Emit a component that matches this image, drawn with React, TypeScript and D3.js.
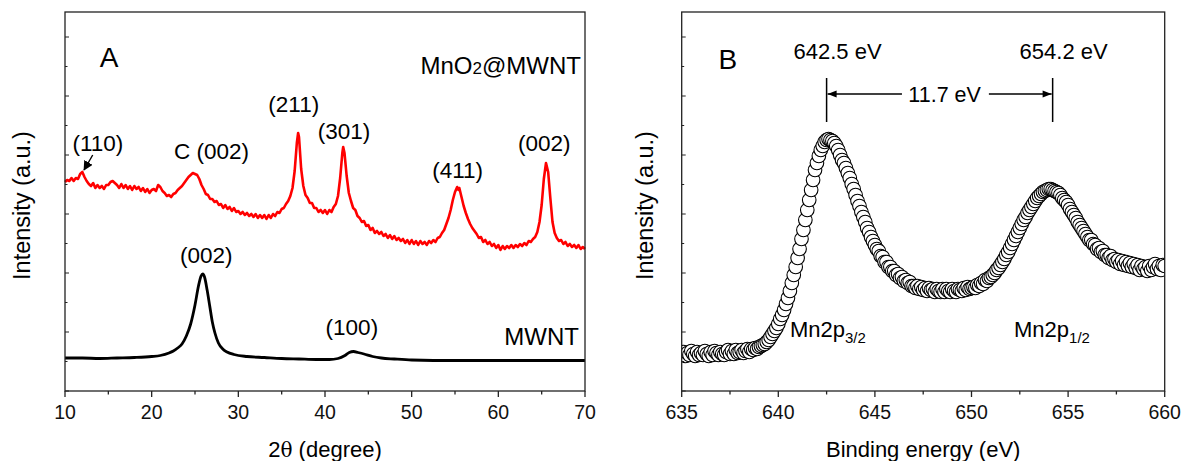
import React from "react";
import * as d3 from "d3";

// ---------- Panel A: XRD ----------
const xrdTicks = [10, 20, 30, 40, 50, 60, 70];
// MnO2@MWNT pattern [2theta, intensity a.u.]
const mno2Pattern: [number, number][] = [
  [10.0, 209], [10.25, 211], [10.5, 210], [10.75, 213], [11.0, 210], [11.25, 213], [11.5, 212], [11.75, 217],
  [12.0, 219], [12.25, 214], [12.5, 210], [12.75, 207], [13.0, 205], [13.25, 208], [13.5, 203], [13.75, 206],
  [14.0, 203], [14.25, 205], [14.5, 202], [14.75, 206], [15.0, 206], [15.25, 209], [15.5, 210], [15.75, 208],
  [16.0, 206], [16.25, 203], [16.5, 207], [16.75, 203], [17.0, 206], [17.25, 202], [17.5, 205], [17.75, 201],
  [18.0, 205], [18.25, 202], [18.5, 204], [18.75, 200], [19.0, 203], [19.25, 199], [19.5, 202], [19.75, 198],
  [20.0, 201], [20.25, 202], [20.5, 200], [20.75, 206], [21.0, 204], [21.25, 200], [21.5, 198], [21.75, 195],
  [22.0, 196], [22.25, 194], [22.5, 197], [22.75, 198], [23.0, 201], [23.25, 203], [23.5, 205], [23.75, 208],
  [24.0, 211], [24.25, 214], [24.5, 216], [24.75, 218], [25.0, 217], [25.25, 216], [25.5, 212], [25.75, 206],
  [26.0, 202], [26.25, 197], [26.5, 196], [26.75, 192], [27.0, 192], [27.25, 189], [27.5, 190], [27.75, 186],
  [28.0, 187], [28.25, 183], [28.5, 186], [28.75, 182], [29.0, 184], [29.25, 180], [29.5, 183], [29.75, 179],
  [30.0, 180], [30.25, 177], [30.5, 179], [30.75, 176], [31.0, 178], [31.25, 175], [31.5, 177], [31.75, 174],
  [32.0, 177], [32.25, 173], [32.5, 176], [32.75, 173], [33.0, 176], [33.25, 172], [33.5, 176], [33.75, 173],
  [34.0, 177], [34.25, 175], [34.5, 179], [34.75, 178], [35.0, 182], [35.25, 183], [35.5, 187], [35.75, 190],
  [36.0, 195], [36.25, 203], [36.5, 220], [36.75, 248], [36.9, 258], [37.0, 254], [37.25, 222], [37.5, 205],
  [37.75, 196], [38.0, 193], [38.25, 188], [38.5, 188], [38.75, 183], [39.0, 183], [39.25, 179], [39.5, 181],
  [39.75, 178], [40.0, 181], [40.25, 177], [40.5, 181], [40.75, 179], [41.0, 184], [41.25, 187], [41.5, 195],
  [41.75, 213], [42.0, 238], [42.1, 244], [42.25, 238], [42.5, 215], [42.75, 198], [43.0, 190], [43.25, 183],
  [43.5, 181], [43.75, 175], [44.0, 173], [44.25, 169], [44.5, 170], [44.75, 165], [45.0, 166], [45.25, 161],
  [45.5, 163], [45.75, 158], [46.0, 160], [46.25, 157], [46.5, 159], [46.75, 155], [47.0, 157], [47.25, 153],
  [47.5, 156], [47.75, 152], [48.0, 155], [48.25, 151], [48.5, 153], [48.75, 150], [49.0, 152], [49.25, 148],
  [49.5, 151], [49.75, 147], [50.0, 151], [50.25, 147], [50.5, 150], [50.75, 146], [51.0, 150], [51.25, 147],
  [51.5, 149], [51.75, 146], [52.0, 150], [52.25, 148], [52.5, 151], [52.75, 149], [53.0, 153], [53.25, 154],
  [53.5, 158], [53.75, 161], [54.0, 167], [54.25, 173], [54.5, 181], [54.75, 191], [55.0, 199], [55.25, 204],
  [55.4, 201], [55.5, 203], [55.75, 194], [56.0, 185], [56.25, 178], [56.5, 172], [56.75, 167], [57.0, 163],
  [57.25, 160], [57.5, 157], [57.75, 153], [58.0, 154], [58.25, 149], [58.5, 151], [58.75, 147], [59.0, 149],
  [59.25, 145], [59.5, 147], [59.75, 143], [60.0, 146], [60.25, 141], [60.5, 145], [60.75, 142], [61.0, 145],
  [61.25, 143], [61.5, 146], [61.75, 143], [62.0, 146], [62.25, 144], [62.5, 147], [62.75, 145], [63.0, 148],
  [63.25, 146], [63.5, 150], [63.75, 149], [64.0, 152], [64.25, 154], [64.5, 159], [64.75, 169], [65.0, 186],
  [65.25, 212], [65.5, 228], [65.75, 219], [66.0, 193], [66.25, 169], [66.5, 158], [66.75, 153], [67.0, 150],
  [67.25, 151], [67.5, 147], [67.75, 149], [68.0, 145], [68.25, 147], [68.5, 144], [68.75, 146], [69.0, 143],
  [69.25, 146], [69.5, 142], [69.75, 144], [70.0, 142],
];
// MWNT pattern [2theta, intensity a.u.]
const mwntPattern: [number, number][] = [
  [10, 33], [12, 33], [14, 32.5], [16, 33], [18, 33.5], [20, 34.5], [21, 35.5], [22, 38], [22.5, 40],
  [23, 43], [23.5, 47], [24, 55], [24.5, 67], [25, 86], [25.4, 105], [25.7, 115], [25.9, 117], [26.1, 114],
  [26.4, 101], [26.7, 85], [27.0, 69], [27.3, 58], [27.7, 48], [28.2, 42], [28.7, 39], [29.5, 36.5],
  [31, 34.5], [33, 33.5], [35, 32.5], [37, 32], [39, 31.5], [40.5, 31.5], [41.5, 32.5], [42.3, 35.5],
  [42.8, 38.5], [43.3, 39.5], [43.8, 38.5], [44.5, 37], [45.5, 34.5], [46.5, 33], [48, 32], [50, 31],
  [55, 30.5], [60, 30.5], [65, 30.5], [70, 30.5],
];
// peak labels: [text, 2theta, intensity]
const mno2Labels: [string, number, number][] = [
  ["(110)", 13.8, 240], ["C (002)", 26.9, 232], ["(211)", 36.4, 279], ["(301)", 42.2, 252],
  ["(411)", 55.3, 213], ["(002)", 65.3, 240],
];
const mwntLabels: [string, number, number][] = [
  ["(002)", 26.3, 128], ["(100)", 43.1, 56],
];

// ---------- Panel B: XPS ----------
const xpsTicks = [635, 640, 645, 650, 655, 660];
const xpsStart = 635;
const xpsStep = 0.1;
const xpsIntensity = [
  37, 39, 35, 38, 36, 40, 37, 35, 39, 36,
  38, 36, 40, 37, 35, 39, 36, 40, 38, 36,
  39, 37, 36, 39, 41, 37, 40, 37, 41, 38,
  39, 41, 38, 40, 42, 39, 42, 41, 43, 42,
  44, 45, 46, 47, 49, 51, 54, 57, 60, 63,
  67, 72, 76, 81, 87, 93, 100, 108, 116, 124,
  133, 142, 152, 161, 171, 181, 191, 201, 211, 221,
  228, 235, 241, 245, 249, 251, 252, 251, 250, 248,
  245, 241, 236, 231, 228, 223, 218, 213, 207, 202,
  196, 190, 185, 179, 174, 169, 163, 159, 154, 150,
  146, 142, 140, 135, 134, 129, 129, 124, 124, 120,
  120, 116, 117, 113, 114, 110, 111, 108, 109, 105,
  105, 103, 105, 102, 104, 101, 103, 100, 103, 101,
  102, 99, 102, 100, 99, 102, 99, 102, 100, 99,
  102, 100, 99, 102, 101, 100, 103, 101, 104, 102,
  103, 104, 103, 106, 105, 108, 107, 111, 110, 113,
  114, 116, 118, 121, 123, 126, 129, 132, 136, 139,
  143, 147, 151, 155, 159, 163, 167, 171, 174, 178,
  181, 184, 187, 190, 193, 195, 197, 199, 200, 201,
  202, 202, 201, 200, 199, 198, 196, 193, 191, 189,
  186, 182, 179, 176, 173, 169, 166, 163, 160, 157,
  154, 151, 151, 147, 146, 142, 143, 139, 140, 136,
  136, 133, 135, 131, 132, 129, 131, 127, 130, 126,
  129, 125, 128, 124, 127, 123, 126, 121, 125, 122,
  124, 120, 125, 121, 124, 127, 122, 125, 121, 126,
  125,
];
const xpsPeaks = [642.5, 654.2];
const xpsSplit = "11.7 eV";

const FONT = "'Liberation Sans', Arial, sans-serif";
const H = 461;

export default function App() {
  const top = 12, bottom = 391;
  const y = d3.scaleLinear().domain([0, 379]).range([bottom, top]);
  const xA = d3.scaleLinear().domain([10, 70]).range([65, 585]);
  const xB = d3.scaleLinear().domain([635, 660]).range([681.7, 1164.7]);

  const lineA = d3.line<[number, number]>().x(d => xA(d[0])).y(d => y(d[1]));
  const smoothA = d3.line<[number, number]>().x(d => xA(d[0])).y(d => y(d[1])).curve(d3.curveMonotoneX);

  const xps = xpsIntensity.map((v, i) => [xpsStart + i * xpsStep, v] as [number, number]);

  const minorA = d3.range(15, 70, 10);
  const minorB = d3.range(637.5, 660, 5);
  const yTicks = d3.range(0, 380, 29.5);

  const xAxis = (x: d3.ScaleLinear<number, number>, major: number[], minor: number[]) => (
    <g>
      {major.map(t => (
        <g key={"M" + t}>
          <line x1={x(t)} x2={x(t)} y1={bottom} y2={bottom + 6} stroke="#222" strokeWidth={1.3} />
          <text x={x(t)} y={bottom + 28} textAnchor="middle" fontSize={19.5} fontFamily={FONT} fill="#111">{t}</text>
        </g>
      ))}
      {minor.map(t => (
        <line key={"m" + t} x1={x(t)} x2={x(t)} y1={bottom} y2={bottom + 3.5} stroke="#222" strokeWidth={1.3} />
      ))}
    </g>
  );

  const yAxis = (x0: number) => (
    <g>
      {yTicks.map((t, i) => (
        <line key={i} x1={x0} x2={x0 + (i % 2 === 0 ? 4 : 2.5)} y1={y(t)} y2={y(t)} stroke="#222" strokeWidth={1} />
      ))}
    </g>
  );

  const [ax0, ax1] = xA.range();
  const [bx0, bx1] = xB.range();
  const arrowY = 94;
  const LBL = 22.5;

  return (
    <svg width={1182} height={H} style={{ position: "absolute", left: 0, top: 0, background: "#fff" }}>
      <defs>
        <clipPath id="clipB"><rect x={bx0} y={top} width={bx1 - bx0} height={bottom - top} /></clipPath>
        <marker id="arrowA" viewBox="0 0 10 10" refX="9" refY="5" markerWidth="7" markerHeight="7" orient="auto">
          <path d="M0,0 L10,5 L0,10 z" fill="#000" />
        </marker>
        <marker id="arrowB" viewBox="0 0 10 10" refX="10" refY="5" markerWidth="9" markerHeight="6" orient="auto">
          <path d="M0,1 L10,5 L0,9 z" fill="#000" />
        </marker>
      </defs>

      {/* ---------- Panel A ---------- */}
      <path d={lineA(mno2Pattern) || ""} fill="none" stroke="#ff0000" strokeWidth={2.6} strokeLinejoin="round" />
      <path d={smoothA(mwntPattern) || ""} fill="none" stroke="#000" strokeWidth={2.8} />
      <rect x={ax0} y={top} width={ax1 - ax0} height={bottom - top} fill="none" stroke="#222" strokeWidth={1.3} />
      {xAxis(xA, xrdTicks, minorA)}
      {yAxis(ax0)}
      <text x={xA(14.0)} y={67} fontSize={28} fontFamily={FONT}>A</text>
      <text x={ax1 - 4} y={74} textAnchor="end" fontSize={24} fontFamily={FONT}>MnO<tspan fontSize={17}>2</tspan>@MWNT</text>
      <text x={ax1 - 6} y={345} textAnchor="end" fontSize={24} fontFamily={FONT}>MWNT</text>
      {mno2Labels.map(([t, th, v]) => (
        <text key={t + th} x={xA(th)} y={y(v)} textAnchor="middle" fontSize={LBL} fontFamily={FONT}>{t}</text>
      ))}
      {mwntLabels.map(([t, th, v]) => (
        <text key={t + th} x={xA(th)} y={y(v)} textAnchor="middle" fontSize={LBL} fontFamily={FONT}>{t}</text>
      ))}
      <line x1={xA(13.2)} y1={y(236)} x2={xA(12.2)} y2={y(221)} stroke="#000" strokeWidth={1.4} markerEnd="url(#arrowA)" />
      <text transform={`translate(30,${(top + bottom) / 2 + 4}) rotate(-90)`} textAnchor="middle" fontSize={23.5} fontFamily={FONT}>Intensity (a.u.)</text>
      <text x={(ax0 + ax1) / 2} y={457} textAnchor="middle" fontSize={22} fontFamily={FONT}>2<tspan fontFamily="'DejaVu Serif', serif" fontSize={20}>θ</tspan> (degree)</text>

      {/* ---------- Panel B ---------- */}
      <g clipPath="url(#clipB)">
        {xps.map(([e, v], i) => (
          <circle key={i} cx={xB(e)} cy={y(v)} r={6.8} fill="#fff" stroke="#000" strokeWidth={1.1} />
        ))}
      </g>
      <rect x={bx0} y={top} width={bx1 - bx0} height={bottom - top} fill="none" stroke="#222" strokeWidth={1.3} />
      {xAxis(xB, xpsTicks, minorB)}
      {yAxis(bx0)}
      <text x={xB(636.9)} y={69} fontSize={28} fontFamily={FONT}>B</text>
      {xpsPeaks.map(p => (
        <g key={p}>
          <text x={xB(p) + 11} y={59} textAnchor="middle" fontSize={22} fontFamily={FONT}>{p.toFixed(1)} eV</text>
          <line x1={xB(p)} x2={xB(p)} y1={78} y2={122} stroke="#000" strokeWidth={1.5} />
        </g>
      ))}
      <line x1={xB(646.4)} x2={xB(xpsPeaks[0]) + 1} y1={arrowY} y2={arrowY} stroke="#000" strokeWidth={1.5} markerEnd="url(#arrowB)" />
      <line x1={xB(650.9)} x2={xB(xpsPeaks[1]) - 1} y1={arrowY} y2={arrowY} stroke="#000" strokeWidth={1.5} markerEnd="url(#arrowB)" />
      <text x={xB((xpsPeaks[0] + xpsPeaks[1]) / 2) + 5} y={arrowY + 8} textAnchor="middle" fontSize={21.5} fontFamily={FONT}>{xpsSplit}</text>
      <text x={xB(640.6)} y={337} fontSize={22} fontFamily={FONT}>Mn2p<tspan fontSize={15} dy={6}>3/2</tspan></text>
      <text x={xB(652.2)} y={337} fontSize={22} fontFamily={FONT}>Mn2p<tspan fontSize={15} dy={6}>1/2</tspan></text>
      <text transform={`translate(653,${(top + bottom) / 2 + 4}) rotate(-90)`} textAnchor="middle" fontSize={23.5} fontFamily={FONT}>Intensity (a.u.)</text>
      <text x={(bx0 + bx1) / 2} y={457} textAnchor="middle" fontSize={22} fontFamily={FONT}>Binding energy (eV)</text>
    </svg>
  );
}
